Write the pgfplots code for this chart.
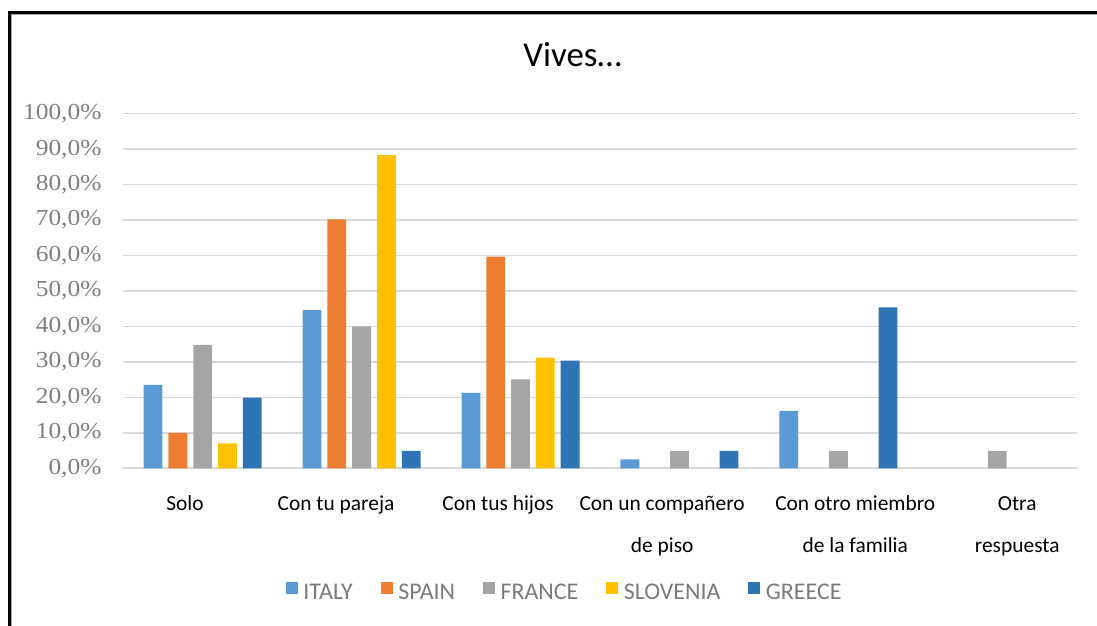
\documentclass[border=0pt]{standalone}
\usepackage{fontspec}
\usepackage{pgfplots}
\pgfplotsset{compat=1.18}
\setmainfont{Carlito}
\newfontfamily\ticknumfont[FakeStretch=1.11]{Liberation Serif}

\definecolor{cItaly}{HTML}{5B9BD5}
\definecolor{cSpain}{HTML}{ED7D31}
\definecolor{cFrance}{HTML}{A5A5A5}
\definecolor{cSlovenia}{HTML}{FFC000}
\definecolor{cGreece}{HTML}{2E75B6}
\definecolor{gridgray}{HTML}{D9D9D9}
\definecolor{tickgray}{HTML}{7F7F7F}
\definecolor{legendgray}{HTML}{7A7A7A}

\begin{document}
\begin{tikzpicture}
\path[use as bounding box] (0,0) rectangle (1097bp,626bp);
\begin{axis}[
  at={(123.2bp,157.7bp)}, anchor=south west,
  scale only axis, width=953.6bp, height=354.6bp,
  xmin=-0.5, xmax=5.5, ymin=0, ymax=100,
  ybar=6bp, bar width=18.8bp,
  axis line style={draw=none},
  major tick length=0pt,
  ymajorgrids, grid style={gridgray, line width=1.6bp},
  ytick={0,10,...,100},
  yticklabels={{0,0\%},{10,0\%},{20,0\%},{30,0\%},{40,0\%},{50,0\%},{60,0\%},{70,0\%},{80,0\%},{90,0\%},{100,0\%}},
  yticklabel style={font=\ticknumfont\fontsize{23}{23}\selectfont, text=tickgray, anchor=east, inner sep=0pt, xshift=-21.5bp},
  % every label has two lines, so that the base anchor is the second line
  xtick={-0.111,0.839,1.859,2.891,4.106,5.125},
  xticklabels={{Solo\\\mbox{}}, {Con tu pareja\\\mbox{}}, {Con tus hijos\\\mbox{}}, {Con un compañero\\de piso}, {Con otro miembro\\de la familia}, {Otra\\respuesta}},
  xticklabel style={anchor=base, inner sep=0pt, yshift=-83.7bp, align=center, font=\fontsize{21.5}{42}\selectfont, text=black},
  title={Vives…},
  title style={at={(axis description cs:0.4712,1.1156)}, anchor=base, inner sep=0pt, font=\fontsize{35}{35}\selectfont},
  legend columns=5,
  legend style={at={(axis description cs:0.1704,-0.3455)}, anchor=west, draw=none, fill=none, inner sep=0pt,
    font=\fontsize{24}{24}\selectfont, text=legendgray,
    cells={anchor=base west}, nodes={inner sep=0pt, text depth=0pt},
    /tikz/every odd column/.append style={column sep=5.5bp},
    /tikz/every even column/.append style={column sep=28bp}},
  legend image code/.code={\fill[#1] (0bp,5bp) rectangle (12bp,17bp);},
]
% shares of respondents per household situation (%)
\addplot[fill=cItaly, draw=none] coordinates {(0,23.5) (1,44.6) (2,21.3) (3,2.5) (4,16.2)};
\addplot[fill=cSpain, draw=none] coordinates {(0,10.0) (1,70.2) (2,59.7)};
\addplot[fill=cFrance, draw=none] coordinates {(0,34.8) (1,40.0) (2,25.1) (3,4.9) (4,4.9) (5,4.9)};
\addplot[fill=cSlovenia, draw=none] coordinates {(0,7.0) (1,88.3) (2,31.2)};
\addplot[fill=cGreece, draw=none] coordinates {(0,19.9) (1,4.9) (2,30.4) (3,4.9) (4,45.4)};
\legend{ITALY, SPAIN, FRANCE, SLOVENIA, GREECE}
\end{axis}
% frame on the left and top
\draw[black!35, line width=1.2bp] (11.8bp,0) -- (11.8bp,611.3bp) -- (1097bp,611.3bp);
\draw[black, line width=3bp] (9.5bp,0) -- (9.5bp,613.5bp) -- (1097bp,613.5bp);
\end{tikzpicture}
\end{document}
